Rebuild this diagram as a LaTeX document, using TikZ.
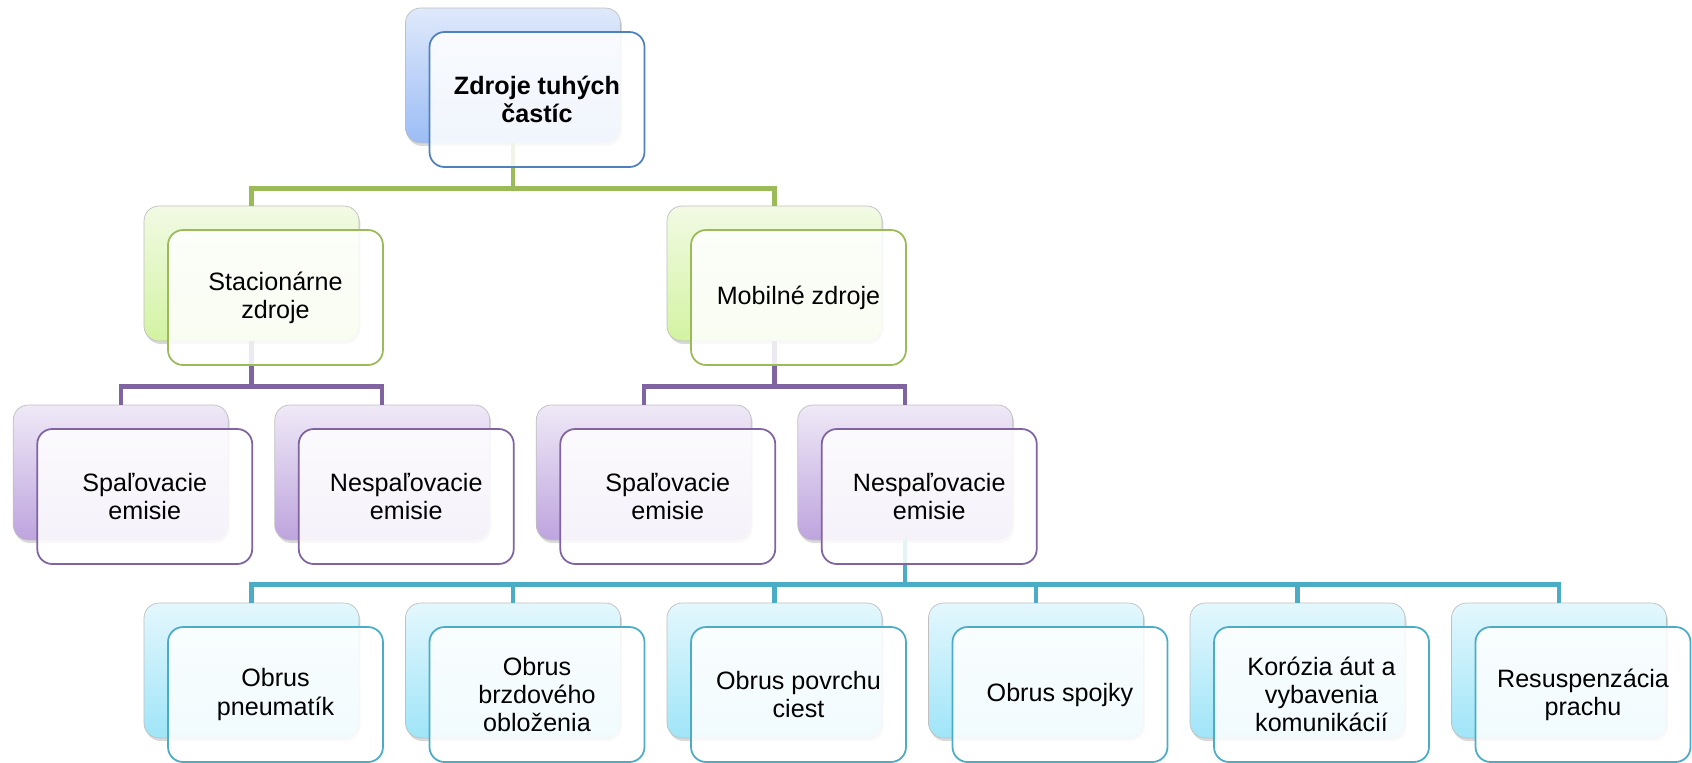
\documentclass[tikz,border=0pt]{standalone}
\usepackage{fontspec}
\setmainfont{Liberation Sans}
\usetikzlibrary{shadows}
\definecolor{blueLine}{HTML}{4F81BD}
\definecolor{blueTop}{HTML}{DFE9FB}
\definecolor{blueBot}{HTML}{9CBDF5}
\definecolor{greenLine}{HTML}{9BBB59}
\definecolor{greenTop}{HTML}{F2FAE4}
\definecolor{greenBot}{HTML}{D3F3A2}
\definecolor{purpleLine}{HTML}{8064A2}
\definecolor{purpleTop}{HTML}{EFE9F7}
\definecolor{purpleBot}{HTML}{BEA4DE}
\definecolor{tealLine}{HTML}{4BACC6}
\definecolor{tealTop}{HTML}{E4F7FD}
\definecolor{tealBot}{HTML}{9FE5F8}
\begin{document}
\begin{tikzpicture}[x=0.02cm,y=-0.02cm,
   card/.style={rectangle,rounded corners=0.3cm,minimum width=4.3cm,minimum height=2.7cm,inner sep=0pt},
   back/.style={card,draw=black!25,top color=#1Top,bottom color=#1Bot,
      drop shadow={shadow xshift=0.03cm,shadow yshift=-0.06cm,opacity=0.3}},
   face/.style={card,draw=#1Line,line width=1pt,fill=white,fill opacity=0.86,text opacity=1,
      align=center,font=\fontsize{14.3}{16}\selectfont},
   bus/.style={draw=#1Line,line width=2.5pt}]
   \useasboundingbox (0,0) rectangle (1692,762);
   % back cards
   \node[back=blue] (broot) at (513,75.5) {};
   \node[back=green] (bstat) at (251.5,273.5) {};
   \node[back=green] (bmob) at (774.5,273.5) {};
   \node[back=purple] (bsp1) at (120.75,472.5) {};
   \node[back=purple] (bnsp1) at (382.25,472.5) {};
   \node[back=purple] (bsp2) at (643.75,472.5) {};
   \node[back=purple] (bnsp2) at (905.25,472.5) {};
   \foreach \x/\nm in {251.5/tyre,513/brake,774.5/road,1036/clutch,1297.5/rust,1559/dust}
      \node[back=teal] (b\nm) at (\x,670.5) {};
   % connectors
   \foreach \nm in {bstat,bmob} \draw[bus=green] (broot.south) -- ++(0,45) -| (\nm.north);
   \foreach \nm in {bsp1,bnsp1} \draw[bus=purple] (bstat.south) -- ++(0,45) -| (\nm.north);
   \foreach \nm in {bsp2,bnsp2} \draw[bus=purple] (bmob.south) -- ++(0,45) -| (\nm.north);
   \foreach \nm in {tyre,brake,road,clutch,rust,dust}
      \draw[bus=teal] (bnsp2.south) -- ++(0,44) -| (b\nm.north);
   % front cards
   \node[face=blue] (root) at ([shift={(24,24)}]broot.center) {\bfseries Zdroje tuhých\\\bfseries častíc};
   \node[face=green] (stat) at ([shift={(24,24)}]bstat.center) {Stacionárne\\zdroje};
   \node[face=green] (mob) at ([shift={(24,24)}]bmob.center) {Mobilné zdroje};
   \node[face=purple] (sp1) at ([shift={(24,24)}]bsp1.center) {Spaľovacie\\emisie};
   \node[face=purple] (nsp1) at ([shift={(24,24)}]bnsp1.center) {Nespaľovacie\\emisie};
   \node[face=purple] (sp2) at ([shift={(24,24)}]bsp2.center) {Spaľovacie\\emisie};
   \node[face=purple] (nsp2) at ([shift={(24,24)}]bnsp2.center) {Nespaľovacie\\emisie};
   \foreach \nm/\txt in {tyre/{Obrus\\pneumatík},brake/{Obrus\\brzdového\\obloženia},road/{Obrus povrchu\\ciest},
      clutch/{Obrus spojky},rust/{Korózia áut a\\vybavenia\\komunikácií},dust/{Resuspenzácia\\prachu}}
      \node[face=teal] (\nm) at ([shift={(24,24)}]b\nm.center) {\txt};
\end{tikzpicture}
\end{document}
